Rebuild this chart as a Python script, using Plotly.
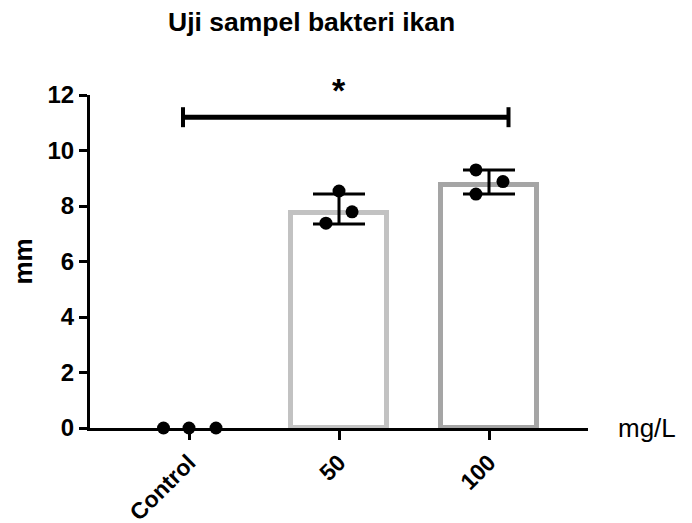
import plotly.graph_objects as go

# ---- data ----
categories = ["Control", "50", "100"]
bar_means = [0.0, 7.76, 8.76]
err_low = [0.0, 7.35, 8.43]
err_high = [0.0, 8.43, 9.30]
points_control = [0.0, 0.0, 0.0]
points_50 = [7.38, 8.54, 7.79]
points_100 = [9.30, 8.88, 8.43]
y_ticks = [0, 2, 4, 6, 8, 10, 12]
sig_pair = [0, 2]          # Control vs 100
sig_level = 11.2
sig_label = "*"

# ---- style ----
FONT = "Liberation Sans, Arial, Helvetica, sans-serif"
bar_line_colors = ["rgba(0,0,0,0)", "#c2c2c2", "#a5a5a5"]
jitter = [[-0.17, 0.0, 0.18], [-0.087, 0.0, 0.087], [-0.087, 0.093, -0.087]]
W, H = 684, 530   # page body adds an 8px margin

idx = list(range(len(categories)))
fig = go.Figure()

fig.add_trace(go.Bar(
    x=idx, y=bar_means, width=0.64,
    marker=dict(color="white", line=dict(color=bar_line_colors, width=5)),
    showlegend=False, hoverinfo="skip"))

# error bars (asymmetric)
err_x = [i for i, m in zip(idx, bar_means) if m > 0]
err_m = [m for m in bar_means if m > 0]
err_hi = [h - m for h, m in zip(err_high, bar_means) if m > 0]
err_lo = [m - l for l, m in zip(err_low, bar_means) if m > 0]
fig.add_trace(go.Scatter(
    x=err_x, y=err_m, mode="markers",
    marker=dict(size=1, color="rgba(0,0,0,0)"),
    error_y=dict(type="data", symmetric=False, array=err_hi, arrayminus=err_lo,
                 color="black", thickness=3, width=26),
    showlegend=False, hoverinfo="skip", cliponaxis=False))

for i, pts in enumerate([points_control, points_50, points_100]):
    fig.add_trace(go.Scatter(
        x=[i + j for j in jitter[i]], y=pts, mode="markers",
        marker=dict(size=13, color="black"),
        showlegend=False, cliponaxis=False))

# significance bracket
x0 = sig_pair[0] - 0.04
x1 = sig_pair[1] + 0.13
fig.add_shape(type="line", xref="x", yref="y", x0=x0, x1=x1, y0=sig_level, y1=sig_level,
              line=dict(color="black", width=5))
for xx in (x0, x1):
    fig.add_shape(type="line", xref="x", yref="y", x0=xx, x1=xx,
                  y0=sig_level - 0.36, y1=sig_level + 0.36,
                  line=dict(color="black", width=4))
fig.add_annotation(x=(sig_pair[0] + sig_pair[1]) / 2, y=sig_level, xref="x", yref="y",
                   text="<b>" + sig_label + "</b>", showarrow=False,
                   yanchor="bottom", yshift=6,
                   font=dict(family=FONT, size=34, color="black"))

fig.add_annotation(xref="paper", yref="paper", x=1.0, y=0, xanchor="left", yanchor="middle",
                   xshift=28, text="mg/L", showarrow=False,
                   font=dict(family=FONT, size=26, color="black"))

fig.add_annotation(xref="paper", yref="paper", x=0, y=0.5, xanchor="center", yanchor="middle",
                   xshift=-68, text="<b>mm</b>", textangle=-90, showarrow=False,
                   font=dict(family=FONT, size=26, color="black"))

fig.update_layout(
    width=W, height=H,
    margin=dict(l=82, r=104, t=87, b=110, autoexpand=False),
    plot_bgcolor="white", paper_bgcolor="white",
    title=dict(text="<b>Uji sampel bakteri ikan</b>", xref="container", yref="container",
               x=160 / W, xanchor="left", y=1 - 14 / H, yanchor="middle",
               font=dict(family=FONT, size=26.5, color="black")),
    xaxis=dict(range=[-0.66, 2.66], tickmode="array", tickvals=idx, ticktext=categories,
               tickangle=-45, showline=True, linecolor="black", linewidth=3,
               ticks="outside", ticklen=9, tickwidth=3, tickcolor="black",
               showgrid=False, zeroline=False, automargin=False,
               tickfont=dict(family=FONT, size=23, color="black", weight="bold")),
    yaxis=dict(range=[0, 12], tickmode="array", tickvals=y_ticks,
               showline=True, linecolor="black", linewidth=3,
               ticks="outside", ticklen=8, tickwidth=3, tickcolor="black",
               showgrid=False, zeroline=False, automargin=False,
               tickfont=dict(family=FONT, size=24, color="black", weight="bold")),
    bargap=0,
)

fig.write_html("out.html")
